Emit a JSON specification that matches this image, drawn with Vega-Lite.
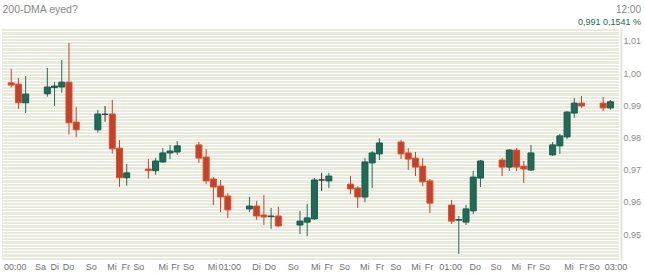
{
  "$schema": "https://vega.github.io/schema/vega-lite/v6.json",
  "width": 617,
  "height": 232,
  "autosize": {"type": "none"},
  "padding": {"left": 2, "top": 28, "right": 26, "bottom": 15},
  "background": "#ffffff",
  "view": {"fill": "#e8ebdc", "stroke": null},
  "config": {"font": "Liberation Sans"},
  "title": {
    "text": "12:00",
    "subtitle": "0,991 0,1541 %",
    "anchor": "end",
    "frame": "group",
    "orient": "top",
    "dx": 22,
    "dy": 24,
    "offset": 1,
    "fontSize": 10,
    "fontWeight": "normal",
    "color": "#888888",
    "subtitleFontSize": 9,
    "subtitleColor": "#1a6650",
    "subtitlePadding": 3,
    "font": "Liberation Sans",
    "subtitleFont": "Liberation Sans"
  },
  "data": {
    "values": [
      {"i": 0, "o": 0.9970, "h": 1.0013, "l": 0.9955, "c": 0.9963},
      {"i": 1, "o": 0.9966, "h": 0.9985, "l": 0.9889, "c": 0.9908},
      {"i": 2, "o": 0.9908, "h": 0.9991, "l": 0.9876, "c": 0.9935},
      {"i": 5, "o": 0.9936, "h": 1.0016, "l": 0.9927, "c": 0.9957},
      {"i": 6, "o": 0.9955, "h": 0.9972, "l": 0.9898, "c": 0.9960},
      {"i": 7, "o": 0.9957, "h": 1.0041, "l": 0.9939, "c": 0.9972},
      {"i": 8, "o": 0.9972, "h": 1.0094, "l": 0.9809, "c": 0.9846},
      {"i": 9, "o": 0.9848, "h": 0.9895, "l": 0.9802, "c": 0.9824},
      {"i": 12, "o": 0.9824, "h": 0.9886, "l": 0.9815, "c": 0.9873},
      {"i": 13, "o": 0.9872, "h": 0.9898, "l": 0.9849, "c": 0.9872},
      {"i": 14, "o": 0.9873, "h": 0.9917, "l": 0.9750, "c": 0.9765},
      {"i": 15, "o": 0.9767, "h": 0.9792, "l": 0.9647, "c": 0.9675},
      {"i": 16, "o": 0.9675, "h": 0.9718, "l": 0.9650, "c": 0.9690},
      {"i": 19, "o": 0.9702, "h": 0.9733, "l": 0.9672, "c": 0.9697},
      {"i": 20, "o": 0.9697, "h": 0.9736, "l": 0.9684, "c": 0.9727},
      {"i": 21, "o": 0.9724, "h": 0.9767, "l": 0.9721, "c": 0.9752},
      {"i": 22, "o": 0.9752, "h": 0.9777, "l": 0.9733, "c": 0.9758},
      {"i": 23, "o": 0.9755, "h": 0.9789, "l": 0.9746, "c": 0.9774},
      {"i": 26, "o": 0.9777, "h": 0.9786, "l": 0.9721, "c": 0.9736},
      {"i": 27, "o": 0.9739, "h": 0.9764, "l": 0.9655, "c": 0.9665},
      {"i": 28, "o": 0.9671, "h": 0.9677, "l": 0.9590, "c": 0.9646},
      {"i": 29, "o": 0.9649, "h": 0.9668, "l": 0.9568, "c": 0.9615},
      {"i": 30, "o": 0.9618, "h": 0.9627, "l": 0.9550, "c": 0.9575},
      {"i": 33, "o": 0.9578, "h": 0.9615, "l": 0.9568, "c": 0.9587},
      {"i": 34, "o": 0.9587, "h": 0.9603, "l": 0.9544, "c": 0.9556},
      {"i": 35, "o": 0.9559, "h": 0.9621, "l": 0.9528, "c": 0.9553},
      {"i": 36, "o": 0.9554, "h": 0.9581, "l": 0.9516, "c": 0.9556},
      {"i": 37, "o": 0.9556, "h": 0.9584, "l": 0.9522, "c": 0.9525},
      {"i": 40, "o": 0.9528, "h": 0.9572, "l": 0.9500, "c": 0.9540},
      {"i": 41, "o": 0.9537, "h": 0.9593, "l": 0.9494, "c": 0.9550},
      {"i": 42, "o": 0.9547, "h": 0.9674, "l": 0.9544, "c": 0.9668},
      {"i": 43, "o": 0.9668, "h": 0.9690, "l": 0.9634, "c": 0.9668},
      {"i": 44, "o": 0.9665, "h": 0.9690, "l": 0.9643, "c": 0.9680},
      {"i": 47, "o": 0.9655, "h": 0.9680, "l": 0.9624, "c": 0.9640},
      {"i": 48, "o": 0.9643, "h": 0.9649, "l": 0.9581, "c": 0.9615},
      {"i": 49, "o": 0.9615, "h": 0.9736, "l": 0.9599, "c": 0.9724},
      {"i": 50, "o": 0.9721, "h": 0.9758, "l": 0.9643, "c": 0.9752},
      {"i": 51, "o": 0.9749, "h": 0.9798, "l": 0.9730, "c": 0.9783},
      {"i": 54, "o": 0.9786, "h": 0.9792, "l": 0.9733, "c": 0.9749},
      {"i": 55, "o": 0.9752, "h": 0.9767, "l": 0.9699, "c": 0.9733},
      {"i": 56, "o": 0.9736, "h": 0.9755, "l": 0.9680, "c": 0.9708},
      {"i": 57, "o": 0.9711, "h": 0.9736, "l": 0.9649, "c": 0.9662},
      {"i": 58, "o": 0.9665, "h": 0.9671, "l": 0.9565, "c": 0.9596},
      {"i": 61, "o": 0.9590, "h": 0.9606, "l": 0.9531, "c": 0.9540},
      {"i": 62, "o": 0.9543, "h": 0.9556, "l": 0.9438, "c": 0.9545},
      {"i": 63, "o": 0.9537, "h": 0.9590, "l": 0.9528, "c": 0.9578},
      {"i": 64, "o": 0.9572, "h": 0.9696, "l": 0.9562, "c": 0.9677},
      {"i": 65, "o": 0.9674, "h": 0.9730, "l": 0.9646, "c": 0.9727},
      {"i": 68, "o": 0.9730, "h": 0.9736, "l": 0.9680, "c": 0.9708},
      {"i": 69, "o": 0.9708, "h": 0.9764, "l": 0.9696, "c": 0.9761},
      {"i": 70, "o": 0.9761, "h": 0.9767, "l": 0.9696, "c": 0.9708},
      {"i": 71, "o": 0.9711, "h": 0.9727, "l": 0.9659, "c": 0.9702},
      {"i": 72, "o": 0.9699, "h": 0.9777, "l": 0.9696, "c": 0.9752},
      {"i": 75, "o": 0.9746, "h": 0.9786, "l": 0.9743, "c": 0.9777},
      {"i": 76, "o": 0.9774, "h": 0.9811, "l": 0.9749, "c": 0.9805},
      {"i": 77, "o": 0.9802, "h": 0.9882, "l": 0.9795, "c": 0.9879},
      {"i": 78, "o": 0.9876, "h": 0.9923, "l": 0.9861, "c": 0.9907},
      {"i": 79, "o": 0.9907, "h": 0.9929, "l": 0.9892, "c": 0.9898},
      {"i": 82, "o": 0.9907, "h": 0.9926, "l": 0.9882, "c": 0.9892},
      {"i": 83, "o": 0.9892, "h": 0.9917, "l": 0.9886, "c": 0.9911}
    ]
  },
  "encoding": {
    "x": {
      "field": "i",
      "type": "quantitative",
      "scale": {"domain": [-0.586, 83.5], "nice": false, "zero": false},
      "axis": {
        "title": null,
        "grid": false,
        "ticks": false,
        "domain": false,
        "tickCount": 500,
        "labelOverlap": false,
        "labelBound": false,
        "labelFlush": false,
        "labelFontSize": 9,
        "labelColor": "#707070",
        "labelPadding": 2,
        "labelFont": "Liberation Sans",
        "values": [0.5, 3.98, 5.96, 7.87, 11.0, 13.9, 15.8, 17.6, 21.0, 22.7, 24.5, 27.8, 30.2, 33.9, 35.8, 39.0, 42.1, 43.9, 46.1, 48.9, 51.0, 53.2, 56.0, 57.8, 60.8, 64.2, 67.1, 69.9, 72.0, 73.8, 77.2, 79.2, 80.7, 83.7],
        "labelExpr": "['00:00','Sa','Di','Do','So','Mi','Fr','So','Mi','Fr','So','Mi','01:00','Di','Do','So','Mi','Fr','So','Mi','Fr','So','Mi','Fr','01:00','Do','So','Mi','Fr','So','Mi','Fr','So','03:00'][indexof([0.5, 3.98, 5.96, 7.87, 11.0, 13.9, 15.8, 17.6, 21.0, 22.7, 24.5, 27.8, 30.2, 33.9, 35.8, 39.0, 42.1, 43.9, 46.1, 48.9, 51.0, 53.2, 56.0, 57.8, 60.8, 64.2, 67.1, 69.9, 72.0, 73.8, 77.2, 79.2, 80.7, 83.7], datum.value)]"
      }
    }
  },
  "layer": [
    {
      "mark": {"type": "rule", "strokeWidth": 1},
      "encoding": {
        "y": {
          "field": "l",
          "type": "quantitative",
          "scale": {"domain": [0.94192, 1.01404], "nice": false, "zero": false},
          "axis": {
            "orient": "right",
            "offset": 2,
            "tickCount": 500,
            "values": [0.942, 0.943, 0.944, 0.945, 0.946, 0.947, 0.948, 0.949, 0.950, 0.951, 0.952, 0.953, 0.954, 0.955, 0.956, 0.957, 0.958, 0.959, 0.960, 0.961, 0.962, 0.963, 0.964, 0.965, 0.966, 0.967, 0.968, 0.969, 0.970, 0.971, 0.972, 0.973, 0.974, 0.975, 0.976, 0.977, 0.978, 0.979, 0.980, 0.981, 0.982, 0.983, 0.984, 0.985, 0.986, 0.987, 0.988, 0.989, 0.990, 0.991, 0.992, 0.993, 0.994, 0.995, 0.996, 0.997, 0.998, 0.999, 1.000, 1.001, 1.002, 1.003, 1.004, 1.005, 1.006, 1.007, 1.008, 1.009, 1.010, 1.011, 1.012, 1.013, 1.014],
            "labelExpr": "abs(datum.value*100 - round(datum.value*100)) < 0.01 ? replace(format(datum.value, '.2f'), '.', ',') : ''",
            "grid": true,
            "gridColor": "#ffffff",
            "gridWidth": 1,
            "gridOpacity": 1,
            "ticks": false,
            "domain": true,
            "domainColor": "#e4e5da",
            "domainWidth": 2,
            "labelFontSize": 9,
            "labelColor": "#8a8a8a",
            "labelPadding": 2,
            "labelFont": "Liberation Sans",
            "labelBound": false,
            "labelFlush": false,
            "labelOverlap": false,
            "title": "200-DMA eyed?",
            "titleAngle": 0,
            "titleAlign": "left",
            "titleBaseline": "alphabetic",
            "titleX": -619,
            "titleY": -16,
            "titleFontSize": 10.5,
            "titleFontWeight": "normal",
            "titleColor": "#888888",
            "titleFont": "Liberation Sans"
          }
        },
        "y2": {"field": "h"},
        "color": {
          "condition": [
            {"test": "datum.c > datum.o", "value": "#1f6b58"},
            {"test": "datum.c < datum.o", "value": "#c4412b"}
          ],
          "value": "#333333"
        }
      }
    },
    {
      "mark": {"type": "bar", "size": 6, "strokeWidth": 1},
      "encoding": {
        "y": {"field": "o", "type": "quantitative"},
        "y2": {"field": "c"},
        "color": {
          "condition": [
            {"test": "datum.c > datum.o", "value": "#1f6b58"},
            {"test": "datum.c < datum.o", "value": "#c4412b"}
          ],
          "value": "#333333"
        },
        "stroke": {
          "condition": [
            {"test": "datum.c > datum.o", "value": "#195a49"},
            {"test": "datum.c < datum.o", "value": "#e0502f"}
          ],
          "value": "#333333"
        }
      }
    }
  ]
}
